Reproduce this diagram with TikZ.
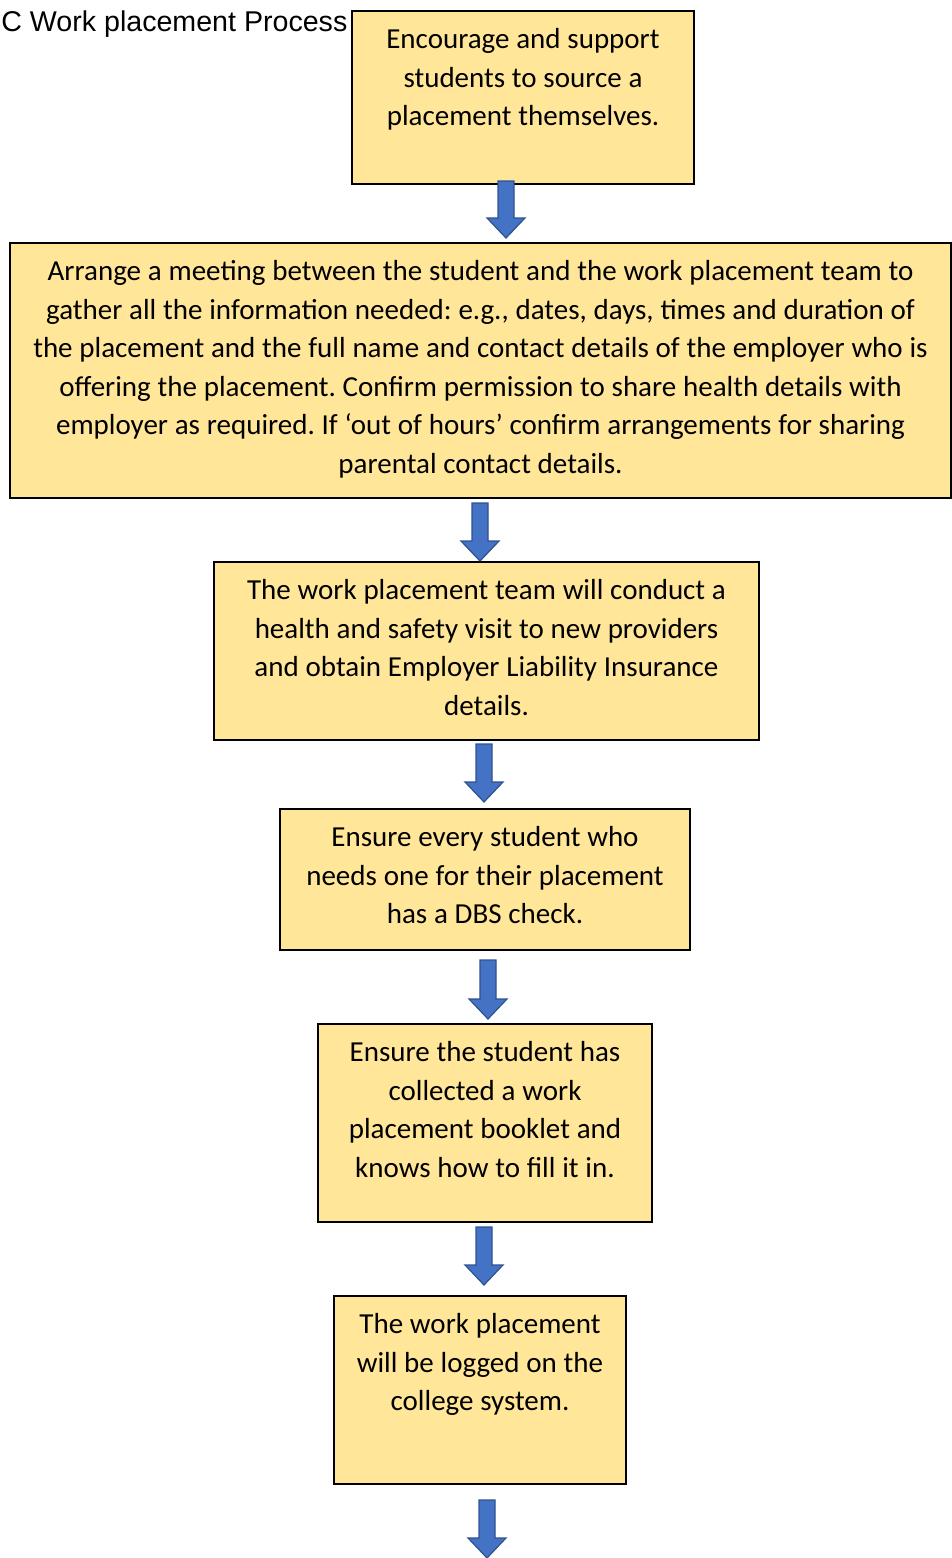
\documentclass[tikz,border=0pt]{standalone}
\usepackage{fontspec}
\setmainfont{Carlito}
\newfontfamily\titlefont{Liberation Sans}
\usetikzlibrary{calc}
\definecolor{boxfill}{HTML}{FFE699}
\definecolor{arrowfill}{HTML}{4472C4}
\definecolor{arrowline}{HTML}{2F528F}
\newcommand\plainspaces{\spaceskip 3.4pt\relax}
\frenchspacing
\begin{document}
\begin{tikzpicture}[x=0.5pt, y=-0.5pt,
  stepbox/.style={draw=black, line width=0.8pt, fill=boxfill, anchor=north, align=center,
    inner xsep=2pt, inner ysep=0pt, text height=19pt,
    font=\fontsize{14.5}{19.25}\selectfont, execute at begin node=\plainspaces},
  blockarrow/.style={draw=arrowline, line width=0.6pt, fill=arrowfill,
    to path={let \p1=(\tikztostart), \p2=(\tikztotarget) in
      (\x1-4pt,\y1) -- (\x1+4pt,\y1) -- (\x1+4pt,\y2+10pt) -- (\x1+9.5pt,\y2+10pt)
      -- (\x1,\y2) -- (\x1-9.5pt,\y2+10pt) -- (\x1-4pt,\y2+10pt) -- cycle}}]
% Page size, one unit is one pixel of the reference
\useasboundingbox (0,0) rectangle (952,1558);
\clip (0,0) rectangle (952,1558);

% Title
\node[font=\titlefont\fontsize{14.3}{17}\selectfont, anchor=base west, inner sep=0pt] (title) at (1,32) {C Work placement Process};

% The steps
\node[stepbox, text width=167pt, text depth=67.5pt] (b1) at (523,10) {Encourage and support\\ students to source a\\ placement themselves.};
\node[stepbox, text width=466.5pt, text depth=108.5pt] (b2) at (480.5,242) {Arrange a meeting between the student and the work placement team to\\
gather all the information needed: e.g., dates, days, times and duration of\\
the placement and the full name and contact details of the employer who is\\
offering the placement. Confirm permission to share health details with\\
employer as required. If ‘out of hours’ confirm arrangements for sharing\\
parental contact details.};
\node[stepbox, text width=268.5pt, text depth=70pt] (b3) at (486.5,561) {The work placement team will conduct a\\ health and safety visit to new providers\\ and obtain Employer Liability Insurance\\ details.};
\node[stepbox, text width=201pt, text depth=51.5pt] (b4) at (485,808) {Ensure every student who\\ needs one for their placement\\ has a DBS check.};
\node[stepbox, text width=163pt, text depth=80pt] (b5) at (485,1023) {Ensure the student has\\ collected a work\\ placement booklet and\\ knows how to fill it in.};
\node[stepbox, text width=142pt, text depth=75pt] (b6) at (480,1295) {The work placement\\ will be logged on the\\ college system.};

% Block arrows between the steps
\coordinate (a1) at (506,181);
\coordinate (a2) at (480,503);
\coordinate (a3) at (484,744);
\coordinate (a4) at (488,960);
\coordinate (a5) at (484,1227);
\coordinate (a6) at (487,1500);
\coordinate (e6) at (487,1558);
\draw[blockarrow] (a1) to ([yshift=2pt]a1 |- b2.north);
\draw[blockarrow] (a2) to (a2 |- b3.north);
\draw[blockarrow] (a3) to ([yshift=3pt]a3 |- b4.north);
\draw[blockarrow] (a4) to ([yshift=2pt]a4 |- b5.north);
\draw[blockarrow] (a5) to ([yshift=5pt]a5 |- b6.north);
\draw[blockarrow] (a6) to (e6);
\end{tikzpicture}
\end{document}
